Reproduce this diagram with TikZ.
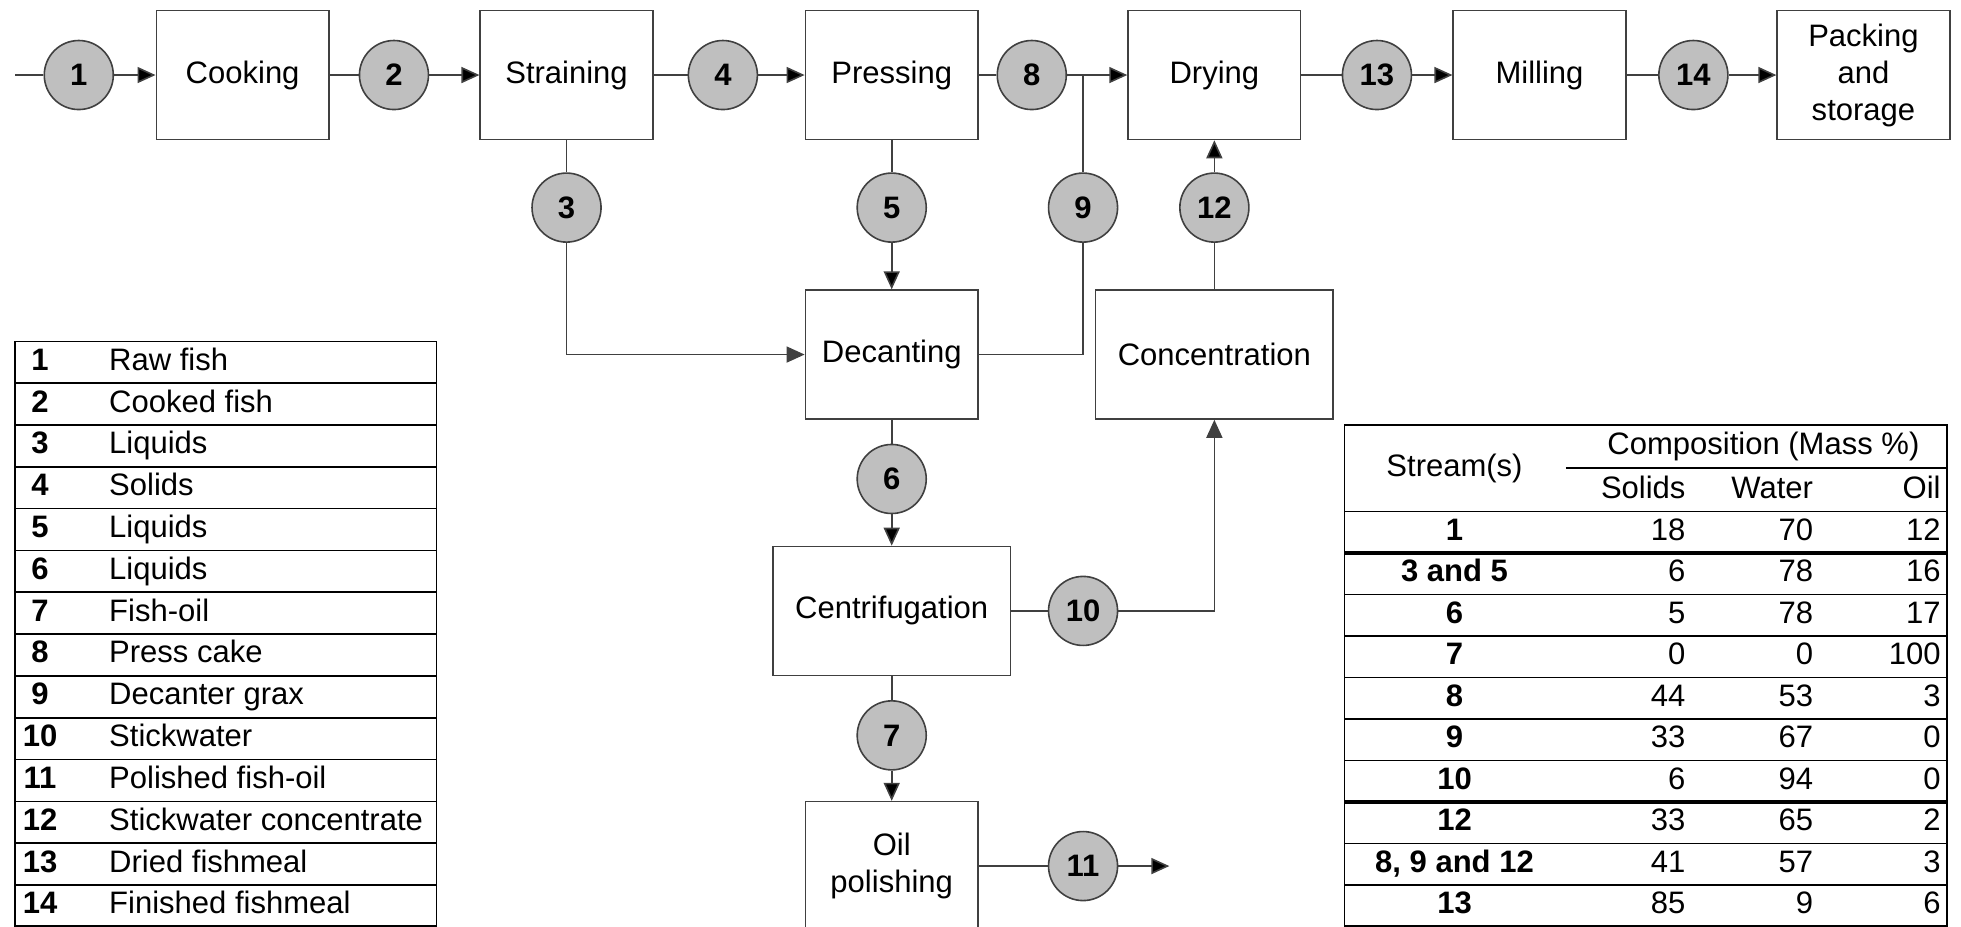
\documentclass[tikz,border=0pt]{standalone}
\usepackage{fontspec}
\setmainfont{Liberation Sans}
\usepackage{tikz}
\usetikzlibrary{arrows.meta}
\newcommand{\flowfont}{\fontsize{15.5}{18.5}\selectfont}

\begin{document}
\begin{tikzpicture}[x=0.625pt,y=-0.625pt,font=\flowfont,
		>={Triangle[length=9pt,width=8pt]},
		unit/.style={draw=black!75,line width=0.8pt,minimum width=86.25pt,minimum height=64.4pt,inner sep=1pt,align=center},
		wideunit/.style={unit,minimum width=118.75pt},
		strm/.style={circle,draw=black!75,fill=black!25,line width=0.8pt,minimum size=34.5pt,inner sep=0pt,font=\flowfont\bfseries},
		pipe/.style={draw=black!75,line width=0.8pt},
		cell/.style={inner sep=0pt,text height=11pt,text depth=3pt},
		rule/.style={line width=0.8pt},
		thickrule/.style={line width=1.8pt}]
		\useasboundingbox (0,0) rectangle (1568,741);
		% process units
		\node[unit] (cook) at (194,60) {Cooking};
		\node[unit] (strain) at (453,60) {Straining};
		\node[unit] (press) at (713,60) {Pressing};
		\node[unit] (dry) at (971,60) {Drying};
		\node[unit] (mill) at (1231,60) {Milling};
		\node[unit] (pack) at (1490,60) {Packing\\and\\storage};
		\node[unit] (decant) at (713,283.5) {Decanting};
		\node[wideunit] (conc) at (971,283.5) {Concentration};
		\node[wideunit] (centri) at (713,488.5) {Centrifugation};
		\node[unit] (oil) at (713,692.5) {Oil\\polishing};
		% streams
		\node[strm] (s1) at (63,60) {1};
		\node[strm] (s2) at (315,60) {2};
		\node[strm] (s4) at (578,60) {4};
		\node[strm] (s8) at (825,60) {8};
		\node[strm] (s13) at (1101,60) {13};
		\node[strm] (s14) at (1354,60) {14};
		\node[strm] (s3) at (453,166) {3};
		\node[strm] (s5) at (713,166) {5};
		\node[strm] (s9) at (866,166) {9};
		\node[strm] (s12) at (971,166) {12};
		\node[strm] (s6) at (713,383) {6};
		\node[strm] (s10) at (866,488.5) {10};
		\node[strm] (s7) at (713,588) {7};
		\node[strm] (s11) at (866,692.5) {11};
		\coordinate (in) at (12,60);
		\coordinate (jn) at (866,60);
		\coordinate (out) at (935,692.5);
		%
		\path[pipe]
		(in) edge (s1)
		(s1) edge[->] (cook)
		(cook) edge (s2)
		(s2) edge[->] (strain)
		(strain) edge (s4)
		(s4) edge[->] (press)
		(press) edge (s8)
		(s8) edge[->] (dry)
		(dry) edge (s13)
		(s13) edge[->] (mill)
		(mill) edge (s14)
		(s14) edge[->] (pack)
		(strain) edge (s3)
		(press) edge (s5)
		(s5) edge[->] (decant)
		(s9) edge (jn)
		(conc) edge (s12)
		(s12) edge[->] (dry)
		(decant) edge (s6)
		(s6) edge[->] (centri)
		(centri) edge (s10)
		(centri) edge (s7)
		(s7) edge[->] (oil)
		(oil) edge (s11)
		(s11) edge[->] (out);
		\draw[pipe,->] (s3) |- (decant);
		\draw[pipe] (decant) -| (s9);
		\draw[pipe,->] (s10) -| (conc);
		% legend
		\draw[rule] (12,273) rectangle (349,740.5);
		\foreach \n/\t [count=\i] in {1/Raw fish,2/Cooked fish,3/Liquids,4/Solids,5/Liquids,6/Liquids,7/Fish-oil,8/Press cake,9/Decanter grax,10/Stickwater,11/Polished fish-oil,12/Stickwater concentrate,13/Dried fishmeal,14/Finished fishmeal}{
			\node[cell,font=\flowfont\bfseries] (ln\i) at (32,{273+33.43*(\i-0.5)}) {\n};
			\node[cell,anchor=west] (lt\i) at (87,{273+33.43*(\i-0.5)}) {\t};
		}
		\foreach \i in {1,...,13}
			\draw[rule] (12,{273+33.43*\i}) -- (349,{273+33.43*\i});
		% composition table
		\draw[rule] (1075,340) rectangle (1557,740.5);
		\draw[rule] (1252,374) -- (1557,374);
		\draw[rule] (1075,409) -- (1557,409);
		\node[cell] (hst) at (1163,375) {Stream(s)};
		\node[cell] (hcomp) at (1410,357) {Composition (Mass \%)};
		\node[cell,anchor=east] (hsol) at (1348,392) {Solids};
		\node[cell,anchor=east] (hwat) at (1450,392) {Water};
		\node[cell,anchor=east] (hoil) at (1552,392) {Oil};
		\foreach \st/\a/\b/\c [count=\i] in {1/18/70/12,3 and 5/6/78/16,6/5/78/17,7/0/0/100,8/44/53/3,9/33/67/0,10/6/94/0,12/33/65/2,{8, 9 and 12}/41/57/3,13/85/9/6}{
			\node[cell,font=\flowfont\bfseries] (st\i) at (1163,{409+33.2*(\i-0.5)}) {\st};
			\node[cell,anchor=east] (sol\i) at (1348,{409+33.2*(\i-0.5)}) {\a};
			\node[cell,anchor=east] (wat\i) at (1450,{409+33.2*(\i-0.5)}) {\b};
			\node[cell,anchor=east] (oil\i) at (1552,{409+33.2*(\i-0.5)}) {\c};
		}
		\foreach \i in {2,...,6,8,9}
			\draw[rule] (1075,{409+33.2*\i}) -- (1557,{409+33.2*\i});
		\foreach \i in {1,7}
			\draw[thickrule] (1075,{409+33.2*\i}) -- (1557,{409+33.2*\i});
	\end{tikzpicture}
\end{document}
